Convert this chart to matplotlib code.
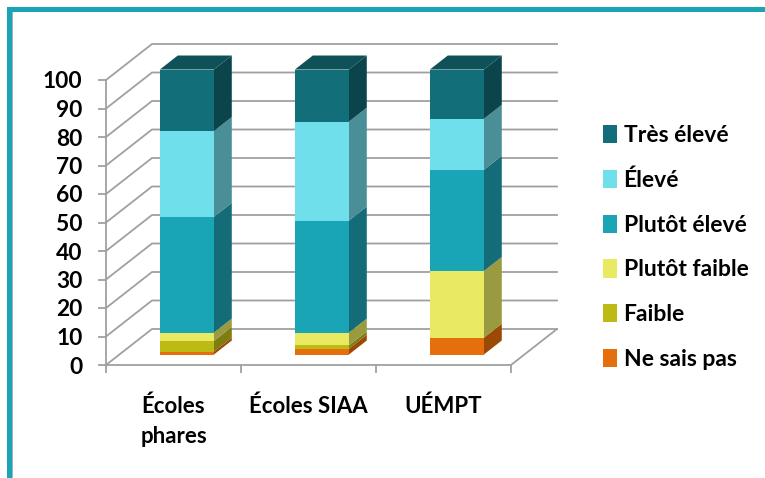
import matplotlib
matplotlib.use("Agg")
import matplotlib.pyplot as plt
from matplotlib.patches import Polygon, Patch, Rectangle

plt.rcParams['font.family'] = ['Lato', 'DejaVu Sans']

categories = ["Écoles\nphares", "Écoles SIAA", "UÉMPT"]
series_names = ["Ne sais pas", "Faible", "Plutôt faible", "Plutôt élevé", "Élevé", "Très élevé"]
ne_sais_pas = [1.0, 2.0, 5.9]
faible = [3.8, 1.2, 0.0]
plutot_faible = [2.9, 4.5, 23.4]
plutot_eleve = [40.6, 39.3, 35.5]
eleve = [30.1, 34.7, 17.9]
tres_eleve = [21.6, 18.3, 17.3]
series = [ne_sais_pas, faible, plutot_faible, plutot_eleve, eleve, tres_eleve]

front_colors = ["#E56F0C", "#BDB915", "#EAEA62", "#19A5B6", "#70DFEC", "#126E78"]
side_colors = ["#9A4A05", "#7F7C10", "#9A9A40", "#136C77", "#4A8E97", "#0B454B"]
top_color = "#0E5158"
grid_color = "#A0A0A0"
teal_frame = "#19A5B6"

W, H = 765, 478
fig = plt.figure(figsize=(W / 100, H / 100), dpi=100)
ax = fig.add_axes([106 / W, 1 - 365 / H, 405 / W, 285 / H])
ax.set_xlim(0, 3)
ax.set_ylim(0, 100)
ax.patch.set_visible(False)

# Oblique projection: depth 0..1 shifts the point right and up
DX = 46 / 135
DY = 36 / 2.85


def proj(x, y, d):
    return (x + d * DX, y + d * DY)


# Walls and floor
yvals = list(range(0, 101, 10))
for v in yvals:
    ax.plot(*zip(proj(0, v, 0), proj(0, v, 1), proj(3, v, 1)),
            color=grid_color, lw=1.3, clip_on=False, zorder=1, solid_joinstyle='miter')
ax.plot(*zip(proj(3, 0, 0), proj(3, 0, 1)), color=grid_color, lw=1.3, clip_on=False, zorder=1)

# Bars
bar_w = 0.4
d0, d1 = 0.29, 0.68
for i in range(len(categories)):
    x0 = i + 0.5 - bar_w / 2
    x1 = x0 + bar_w
    base = 0.0
    for s, vals in enumerate(series):
        v = vals[i]
        if v > 0:
            top = base + v
            ax.add_patch(Polygon([proj(x1, base, d0), proj(x1, top, d0), proj(x1, top, d1), proj(x1, base, d1)],
                                 fc=side_colors[s], ec='none', clip_on=False, zorder=3))
            ax.add_patch(Polygon([proj(x0, base, d0), proj(x1, base, d0), proj(x1, top, d0), proj(x0, top, d0)],
                                 fc=front_colors[s], ec='none', clip_on=False, zorder=4))
            base = top
    ax.add_patch(Polygon([proj(x0, base, d0), proj(x1, base, d0), proj(x1, base, d1), proj(x0, base, d1)],
                         fc=top_color, ec='none', clip_on=False, zorder=3))

# Axes styling
for sp in ('top', 'right'):
    ax.spines[sp].set_visible(False)
for sp in ('left', 'bottom'):
    ax.spines[sp].set_color(grid_color)
    ax.spines[sp].set_linewidth(1.3)
    ax.spines[sp].set_zorder(2)
ax.set_yticks(yvals)
ax.set_yticklabels([str(v) for v in yvals], fontsize=16.4, fontweight='bold', color='black')
ax.tick_params(axis='y', length=5.8, width=1.3, color=grid_color, pad=11)
ax.set_xticks([0, 1, 2, 3])
ax.set_xticklabels([])
ax.tick_params(axis='x', which='major', length=5.8, width=1.3, color=grid_color)
ax.set_xticks([0.5, 1.5, 2.5], minor=True)
ax.set_xticklabels(categories, minor=True, fontsize=16, fontweight='bold', color='black', linespacing=1.55)
ax.tick_params(axis='x', which='minor', length=0, pad=22)

# Legend
handles = [Patch(fc=front_colors[s], ec='none', label=series_names[s]) for s in reversed(range(6))]
fig.legend(handles=handles, loc='upper left', bbox_to_anchor=(596 / W, 1 - 118 / H),
           frameon=False, prop={'size': 16.5, 'weight': 'bold'}, labelspacing=1.03,
           handlelength=0.62, handleheight=0.85, handletextpad=0.28, borderaxespad=0, borderpad=0.3)

# Slide frame
fig.add_artist(Rectangle((7 / W, 1 - 11.7 / H), (W - 7) / W, 4.4 / H, transform=fig.transFigure, fc=teal_frame, ec='none'))
fig.add_artist(Rectangle((7 / W, 0), 4.8 / W, 1 - 7.3 / H, transform=fig.transFigure, fc=teal_frame, ec='none'))
fig.add_artist(Rectangle((11.8 / W, 0), 1.2 / W, 1 - 11.7 / H, transform=fig.transFigure, fc="#9DB4B8", ec='none'))

fig.savefig("out.png", dpi=100)
